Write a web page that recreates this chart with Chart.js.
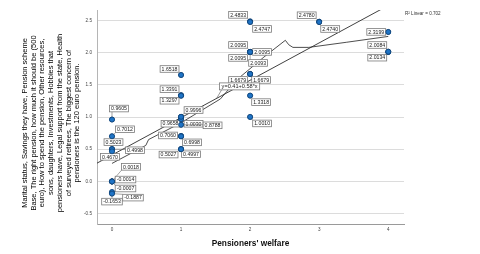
<!DOCTYPE html>
<html><head><meta charset="utf-8">
<script src="https://cdn.jsdelivr.net/npm/chart.js@4/dist/chart.umd.min.js"></script>
<style>html,body{margin:0;padding:0;background:#fff;overflow:hidden}canvas{display:block}</style>
</head><body><canvas id="c" width="480" height="254"></canvas>
<script>
// ---- data ----
const welfareLevels = [0, 1, 2, 3, 4];
const valuesAt0 = [0.9605, 0.7012, 0.5023, 0.4998, 0.4670, 0.0018, -0.0014, -0.0007, -0.1653, -0.1887];
const valuesAt1 = [1.6518, 1.3391, 1.3297, 0.9996, 0.9658, 1.0030, 0.8788, 0.7060, 0.6998, 0.5027, 0.4997];
const valuesAt2 = [2.4833, 2.4747, 2.0095, 2.0095, 2.0095, 2.0093, 1.6679, 1.6679, 1.3318, 1.0010];
const valuesAt3 = [2.4780, 2.4740];
const valuesAt4 = [2.3199, 2.0084, 2.0134];
const xTicks = [0, 1, 2, 3, 4];
const yTicks = [-0.5, 0, 0.5, 1, 1.5, 2, 2.5];
const fitIntercept = 0.41;
const fitSlope = 0.58;
const rSquaredText = "R\u00B2 Linear = 0.702";
const equationText = "y=0.41+0.58*x";
const curveX = [0, 0.44, 0.49, 0.53, 1.0, 1.57, 1.81, 2.2, 2.51, 2.56, 2.62, 2.85, 3.4, 4.0];
const curveY = [0.28, 0.53, 0.56, 0.65, 0.91, 1.28, 1.58, 1.93, 2.19, 2.12, 2.08, 2.08, 2.16, 2.25];
const xTitle = "Pensioners' welfare";
const yTitleLines = [
  "Marital status, Savings they have, Pension scheme",
  "Base, The right pension, how much it should be (500",
  "euro), How to spend the pension, Other resources,",
  "sons, daughters, Investments, Hobbies that",
  "pensioners have, Legal support from the state, Health",
  "of surveyed retirees, The biggest concern of",
  "pensioners is the 120 euro pension."
];

// ---- layout / style (label box offsets in px, one per point, same order) ----
const labelOffsets = [
  [7,-11],[13,-7],[1.5,-7],[23,1],[-2,5.5],[19,-14.5],[13.5,-2],[13.5,7],[0,9.5],[21,4],
  [-11.5,-6],[-11.5,-6],[-11.5,5],[12.5,-7],[-10.5,4.5],[12.5,7],[31.5,0.5],[-13,-0.5],[11,6],[-12.5,5.5],[10,5],
  [-12,-6.5],[12,7],[-12,-7],[12,0],[-12,6],[8,11],[-12,6],[11,6],[11,6.5],[12,6.5],
  [-12.5,-6.5],[11,7],
  [-12,0],[-11,-7],[-11,6]
];

const groups = [valuesAt0, valuesAt1, valuesAt2, valuesAt3, valuesAt4];
const points = [];
groups.forEach((vals, gi) => vals.forEach(v => points.push({x: welfareLevels[gi], y: v})));
const X_MIN = -0.217, X_MAX = 4.228, Y_MIN = -0.66, Y_MAX = 2.66;
const fitLine = [X_MIN, X_MAX].map(x => ({x, y: fitIntercept + fitSlope * x}));
const curve = curveX.map((x, i) => ({x, y: curveY[i]}));

const FONT = "'Liberation Sans', Arial, sans-serif";

const overlay = {
  id: 'overlay',
  afterDatasetsDraw(chart) {
    const ctx = chart.ctx, xs = chart.scales.x, ys = chart.scales.y;
    ctx.save();
    ctx.font = "5.2px " + FONT;
    ctx.textAlign = 'center'; ctx.textBaseline = 'middle';
    const meta = chart.getDatasetMeta(0);
    points.forEach((p, i) => {
      const px = xs.getPixelForValue(p.x), py = ys.getPixelForValue(p.y);
      const off = labelOffsets[i];
      const cx = px + off[0], cy = py + off[1];
      const txt = p.y.toFixed(4);
      const w = ctx.measureText(txt).width + 3, h = 6.6;
      const bx = cx - w / 2, by = cy - h / 2;
      // leader line
      const nx = Math.max(bx, Math.min(px, bx + w)), ny = Math.max(by, Math.min(py, by + h));
      if (Math.hypot(nx - px, ny - py) > 4) {
        ctx.strokeStyle = '#666'; ctx.lineWidth = 0.6;
        ctx.beginPath(); ctx.moveTo(px, py); ctx.lineTo(nx, ny); ctx.stroke();
      }
      ctx.fillStyle = '#fff'; ctx.fillRect(bx, by, w, h);
      ctx.strokeStyle = '#7a7a7a'; ctx.lineWidth = 0.8; ctx.strokeRect(bx, by, w, h);
      ctx.fillStyle = '#222'; ctx.fillText(txt, cx, cy + 0.3);
    });
    meta.data.forEach(el => el.draw(ctx));
    // equation label
    const ax = 1.515, apx = xs.getPixelForValue(ax), apy = ys.getPixelForValue(fitIntercept + fitSlope * ax);
    ctx.font = "5.6px " + FONT;
    const ew = ctx.measureText(equationText).width + 4, eh = 7;
    const ecx = apx + 23, ecy = apy - 12;
    ctx.strokeStyle = '#555'; ctx.lineWidth = 0.6;
    ctx.beginPath(); ctx.moveTo(apx, apy); ctx.lineTo(ecx - ew / 2 + 2, ecy + eh / 2); ctx.stroke();
    ctx.fillStyle = '#fff'; ctx.fillRect(ecx - ew / 2, ecy - eh / 2, ew, eh);
    ctx.strokeStyle = '#7a7a7a'; ctx.lineWidth = 0.8; ctx.strokeRect(ecx - ew / 2, ecy - eh / 2, ew, eh);
    ctx.fillStyle = '#222'; ctx.fillText(equationText, ecx, ecy + 0.3);
    ctx.restore();
  },
  afterDraw(chart) {
    const ctx = chart.ctx;
    ctx.save();
    // R squared legend
    ctx.font = "4.6px " + FONT; ctx.fillStyle = '#333';
    ctx.textAlign = 'left'; ctx.textBaseline = 'middle';
    ctx.fillText(rSquaredText, chart.chartArea.right + 1, 14);
    // y axis title (multi-line, rotated)
    ctx.font = "7.5px " + FONT; ctx.fillStyle = '#000';
    ctx.textAlign = 'center';
    yTitleLines.forEach((line, i) => {
      ctx.save();
      ctx.translate(25 + i * 8.7, 123);
      ctx.rotate(-Math.PI / 2);
      ctx.fillText(line, 0, 0);
      ctx.restore();
    });
    ctx.restore();
  }
};

new Chart(document.getElementById('c'), {
  type: 'scatter',
  data: {
    datasets: [
      { data: points, pointRadius: 2.5, pointBackgroundColor: '#1f74c6', pointBorderColor: '#0e3d6e', pointBorderWidth: 0.7, showLine: false, order: 0 },
      { data: fitLine, showLine: true, pointRadius: 0, borderColor: '#2b2b2b', borderWidth: 0.9, fill: false, order: 1 },
      { data: curve, showLine: true, pointRadius: 0, borderColor: '#3a3a3a', borderWidth: 0.9, tension: 0, fill: false, order: 2 }
    ]
  },
  options: {
    responsive: false, animation: false, devicePixelRatio: 1,
    layout: { padding: { left: 0, right: 76, top: 10, bottom: 0 } },
    plugins: { legend: { display: false }, tooltip: { enabled: false } },
    scales: {
      x: {
        type: 'linear', min: X_MIN, max: X_MAX,
        afterBuildTicks: s => { s.ticks = xTicks.map(v => ({value: v})); },
        afterFit: s => { s.height = 30; },
        grid: { display: false, drawTicks: false },
        border: { display: true, color: '#9a9a9a', width: 1 },
        ticks: { font: { size: 4.6, family: FONT }, color: '#444', padding: 2.5, maxRotation: 0, autoSkip: false, callback: v => String(v) },
        title: { display: true, text: xTitle, color: '#111', font: { size: 8.3, weight: 'bold', family: FONT }, padding: { top: 0, bottom: 5 } }
      },
      y: {
        type: 'linear', min: Y_MIN, max: Y_MAX,
        afterBuildTicks: s => { s.ticks = yTicks.map(v => ({value: v})); },
        afterFit: s => { s.width = 97; },
        grid: { color: '#dcdcdc', lineWidth: 1, drawTicks: false },
        border: { display: true, color: '#b5b5b5', width: 1 },
        ticks: { font: { size: 4.6, family: FONT }, color: '#444', padding: 5, autoSkip: false, callback: v => v.toFixed(1) }
      }
    }
  },
  plugins: [overlay]
});
</script>
</body></html>
